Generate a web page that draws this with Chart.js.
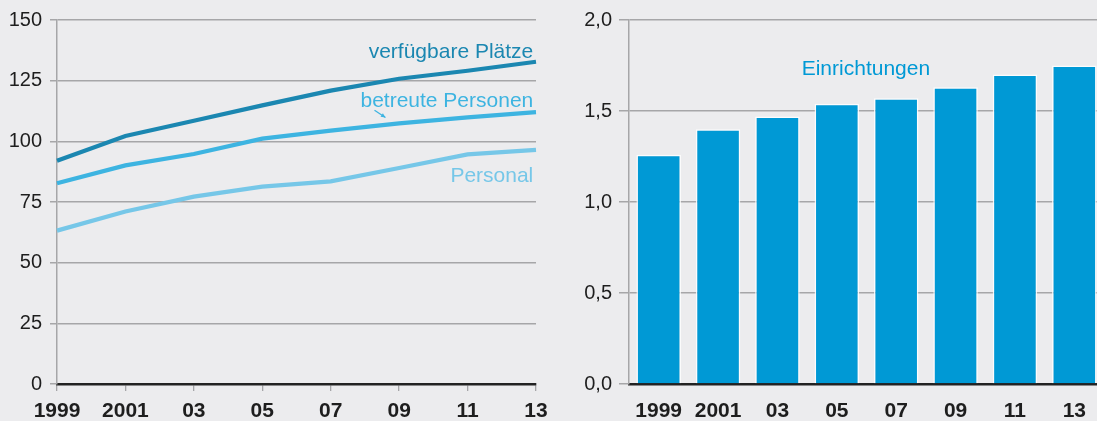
<!DOCTYPE html>
<html>
<head>
<meta charset="utf-8">
<script src="https://cdn.jsdelivr.net/npm/chart.js@4.4.1/dist/chart.umd.min.js"></script>
<style>
  html, body { margin:0; padding:0; background:#ececee; overflow:hidden; }
  #wrap { position:relative; width:1097px; height:421px; overflow:hidden; }
  .box { position:absolute; top:0; height:421px; }
  #leftBox { left:0; width:560px; }
  #rightBox { left:560px; width:560px; }
</style>
</head>
<body>
<div id="wrap">
  <div class="box" id="leftBox"><canvas id="lineChart"></canvas></div>
  <div class="box" id="rightBox"><canvas id="barChart"></canvas></div>
</div>
<script>
// ================= data =================
const years = ["1999","2001","03","05","07","09","11","13"];
const plaetze = [92.0, 102.2, 108.5, 114.8, 120.9, 125.8, 129.1, 132.8];   // verfügbare Plätze (Tsd.)
const betreute = [82.7, 90.1, 94.8, 101.1, 104.4, 107.4, 109.9, 112.0];   // betreute Personen
const personal = [63.2, 71.1, 77.2, 81.3, 83.5, 89.0, 94.6, 96.5];        // Personal
const einrichtungen = [1.26, 1.40, 1.47, 1.54, 1.57, 1.63, 1.70, 1.75];   // Einrichtungen (Tsd.)
const leftTicks = [0, 25, 50, 75, 100, 125, 150];
const rightTicks = [0, 0.5, 1.0, 1.5, 2.0];

const FONT = "'Liberation Sans', Arial, Helvetica, sans-serif";
const C_DARK = "#1b87b1";
const C_MID = "#3db4e1";
const C_LIGHT = "#76c7e8";
const C_BAR = "#0099d5";
const GRID = "#a6a6a8";

Chart.defaults.font.family = FONT;
Chart.defaults.color = "#1e1e1e";
Chart.defaults.animation = false;

// text labels drawn next to the series
function textPlugin(items, arrow) {
    return {
        id: 'seriesText',
        afterDatasetsDraw(chart) {
            const c = chart.ctx;
            const x = chart.scales.x, y = chart.scales.y;
            c.save();
            c.font = "21px " + FONT;
            c.textBaseline = 'alphabetic';
            items.forEach(it => {
                c.fillStyle = it.color;
                c.textAlign = it.align;
                c.fillText(it.text, x.getPixelForValue(it.xi), y.getPixelForValue(it.yv));
            });
            if (arrow) {
                const x0 = x.getPixelForValue(arrow.from[0]), y0 = y.getPixelForValue(arrow.from[1]);
                const x1 = x.getPixelForValue(arrow.to[0]), y1 = y.getPixelForValue(arrow.to[1]);
                c.strokeStyle = arrow.color;
                c.fillStyle = arrow.color;
                c.lineWidth = 1.3;
                c.beginPath(); c.moveTo(x0, y0); c.lineTo(x1, y1); c.stroke();
                const a = Math.atan2(y1 - y0, x1 - x0);
                c.beginPath();
                c.moveTo(x1, y1);
                c.lineTo(x1 - 5*Math.cos(a - 0.45), y1 - 5*Math.sin(a - 0.45));
                c.lineTo(x1 - 5*Math.cos(a + 0.45), y1 - 5*Math.sin(a + 0.45));
                c.closePath(); c.fill();
            }
            c.restore();
        }
    };
}

// ================= line chart =================
const ctx1 = document.getElementById('lineChart').getContext('2d');
const lineChart = new Chart(ctx1, {
    type: 'line',
    data: {
        labels: years,
        datasets: [
            {label: 'verfügbare Plätze', data: plaetze, borderColor: C_DARK, borderWidth: 4.2},
            {label: 'betreute Personen', data: betreute, borderColor: C_MID, borderWidth: 4.2},
            {label: 'Personal', data: personal, borderColor: C_LIGHT, borderWidth: 4.2}
        ]
    },
    options: {
        responsive: true, maintainAspectRatio: false,
        layout: {padding: {top: 20, right: 24, bottom: 0, left: 0}},
        elements: {point: {radius: 0}, line: {tension: 0, borderCapStyle: 'butt'}},
        plugins: {legend: {display: false}, tooltip: {enabled: false}},
        scales: {
            x: {
                offset: false,
                grid: {drawOnChartArea: false, color: GRID, tickLength: 7, lineWidth: 1.3},
                border: {color: '#222', width: 2.5},
                ticks: {font: {size: 21, weight: 'bold'}, padding: 8, maxRotation: 0, autoSkip: false, color: '#1e1e1e'},
                afterFit: s => { s.height = 37; }
            },
            y: {
                min: 0, max: 150,
                afterBuildTicks: s => { s.ticks = leftTicks.map(v => ({value: v})); },
                grid: {color: GRID, lineWidth: 1.5, tickLength: 7},
                border: {color: GRID, width: 1.5},
                ticks: {font: {size: 20}, padding: 8, color: '#1e1e1e'},
                afterFit: s => { s.width = 57; }
            }
        }
    },
    plugins: [textPlugin([
        {text: 'verfügbare Plätze', color: C_DARK, align: 'right', xi: 6.96, yv: 134.5},
        {text: 'betreute Personen', color: C_MID, align: 'right', xi: 6.96, yv: 114},
        {text: 'Personal', color: C_LIGHT, align: 'right', xi: 6.96, yv: 83.3}
    ], {from: [4.64, 112.8], to: [4.8, 109.8], color: C_MID})]
});

// ================= bar chart =================
const ctx2 = document.getElementById('barChart').getContext('2d');
const barChart = new Chart(ctx2, {
    type: 'bar',
    data: {
        labels: years,
        datasets: [{label: 'Einrichtungen', data: einrichtungen, backgroundColor: C_BAR,
            borderColor: 'rgba(255,255,255,0.85)', borderWidth: {top: 1.5, left: 1.5, right: 1.5, bottom: 0},
            barPercentage: 0.75, categoryPercentage: 1}]
    },
    options: {
        responsive: true, maintainAspectRatio: false,
        layout: {padding: {top: 20, right: 16, bottom: 0, left: 0}},
        plugins: {legend: {display: false}, tooltip: {enabled: false}},
        scales: {
            x: {
                offset: true,
                grid: {drawOnChartArea: false, tickColor: 'rgba(0,0,0,0)', tickLength: 7},
                border: {color: '#222', width: 2.5},
                ticks: {font: {size: 21, weight: 'bold'}, padding: 8, maxRotation: 0, autoSkip: false, color: '#1e1e1e'},
                afterFit: s => { s.height = 37; }
            },
            y: {
                min: 0, max: 2,
                afterBuildTicks: s => { s.ticks = rightTicks.map(v => ({value: v})); },
                grid: {color: GRID, lineWidth: 1.5, tickLength: 10},
                border: {color: GRID, width: 1.5},
                ticks: {font: {size: 20}, padding: 7, color: '#1e1e1e',
                    callback: v => v.toFixed(1).replace('.', ',')},
                afterFit: s => { s.width = 69; }
            }
        }
    },
    plugins: [textPlugin([
        {text: 'Einrichtungen', color: C_BAR, align: 'center', xi: 3.49, yv: 1.7}
    ])]
});
</script>
</body>
</html>
